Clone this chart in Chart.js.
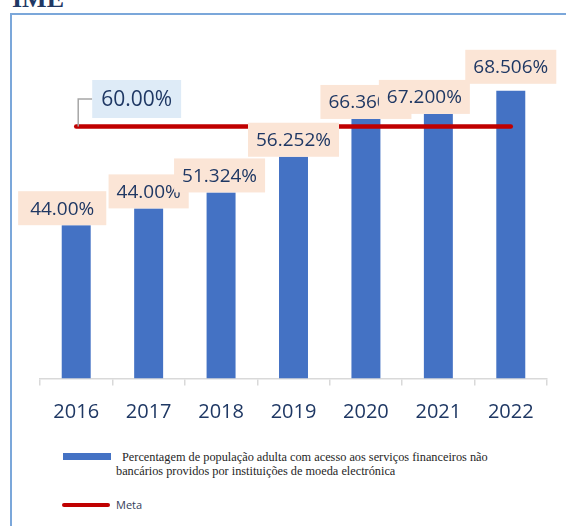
<!DOCTYPE html>
<html lang="pt">
<head>
    <meta charset="UTF-8">
    <title>Acesso a serviços financeiros não bancários</title>
    <script src="https://cdn.jsdelivr.net/npm/chart.js"></script>
    <style>
        body {
            margin: 0;
            background: #ffffff;
            width: 566px;
            height: 526px;
            overflow: hidden;
            position: relative;
        }
        .frame {
            position: absolute;
            left: 10px;
            top: 13px;
            width: 620px;
            height: 600px;
            border-left: 2px solid #7ba7da;
            border-top: 2px solid #7ba7da;
        }
        .title {
            position: absolute;
            left: 12px;
            top: -14px;
            font: bold 26px/26px "Liberation Serif", serif;
            color: #1f3864;
        }
        .chart-box {
            position: absolute;
            left: 0;
            top: 0;
            width: 566px;
            height: 445px;
        }
        .legend-swatch {
            position: absolute;
        }
        .legend-text {
            position: absolute;
            left: 116px;
        }
    </style>
</head>
<body>

<div class="frame"></div>
<div class="title">IME</div>

<div class="chart-box">
    <canvas id="imeChart"></canvas>
</div>
<div id="legend"></div>

<script>
    // Data
    const years = ['2016', '2017', '2018', '2019', '2020', '2021', '2022'];
    const adultAccess = [36.5, 40.5, 44.3, 52.8, 61.8, 63.0, 68.5];
    const valueLabels = ['44.00%', '44.00%', '51.324%', '56.252%', '66.360%', '67.200%', '68.506%'];
    const metaValues = [60, 60, 60, 60, 60, 60, 60];
    const seriesName = ['Percentagem de população adulta com acesso aos serviços financeiros não',
                        'bancários providos por instituições de moeda electrónica'];
    const metaName = 'Meta';

    const navy = '#1f3864';

    // Draws the boxed data labels and the target label with its leader line
    const boxLabels = {
        id: 'boxLabels',
        afterDatasetsDraw(chart) {
            const ctx = chart.ctx;
            const bars = chart.getDatasetMeta(0).data;
            const shiftX = [-14, 0, -1.5, 0, 0, -14, 0];
            const shiftY = [0, 0, 0, 0, 0, 0, -7];
            const extraW = [8, 0, 0, 0, 0, 0, 0];
            ctx.save();
            ctx.font = '19px "Open Sans"';
            ctx.textAlign = 'center';
            ctx.textBaseline = 'middle';

            bars.forEach((bar, i) => {
                const text = valueLabels[i];
                const w = ctx.measureText(text).width + 16 + extraW[i];
                const h = 34;
                const cx = bar.x + shiftX[i];
                const bottom = bar.y + shiftY[i];
                ctx.fillStyle = '#fbe5d6';
                ctx.fillRect(cx - w / 2, bottom - h, w, h);
                ctx.fillStyle = navy;
                ctx.fillText(text, cx, bottom - h / 2 + 1);
            });

            // target label
            ctx.font = '21px "Open Sans"';
            const start = chart.getDatasetMeta(1).data[0];
            const text = metaValues[0].toFixed(2) + '%';
            const w = ctx.measureText(text).width + 18;
            const h = 38;
            const left = start.x + 16;
            const top = start.y - 46.5;
            ctx.strokeStyle = '#a6a6a6';
            ctx.lineWidth = 1.5;
            ctx.beginPath();
            ctx.moveTo(start.x + 2, start.y);
            ctx.lineTo(start.x + 2, top + h / 2);
            ctx.lineTo(left, top + h / 2);
            ctx.stroke();
            ctx.fillStyle = '#deebf7';
            ctx.fillRect(left, top, w, h);
            ctx.fillStyle = navy;
            ctx.fillText(text, left + w / 2, top + h / 2 + 1);
            ctx.restore();
        }
    };

    const chart = new Chart(document.getElementById('imeChart'), {
        type: 'bar',
        data: {
            labels: years,
            datasets: [{
                label: seriesName,
                data: adultAccess,
                backgroundColor: '#4472c4',
                borderWidth: 0,
                categoryPercentage: 1,
                barPercentage: 0.4,
                order: 1
            }, {
                type: 'line',
                label: metaName,
                data: metaValues,
                borderColor: '#c00000',
                borderWidth: 4.5,
                borderCapStyle: 'round',
                pointRadius: 0,
                order: 0
            }]
        },
        options: {
            responsive: true,
            maintainAspectRatio: false,
            animation: false,
            layout: {
                padding: { left: 40, right: 19, top: 42.5, bottom: 5.5 }
            },
            plugins: {
                legend: { display: false },
                tooltip: { enabled: false }
            },
            scales: {
                x: {
                    grid: {
                        drawOnChartArea: false,
                        tickLength: 7,
                        color: '#d9d9d9',
                        lineWidth: 1.5
                    },
                    border: { color: '#d9d9d9', width: 1.5 },
                    ticks: {
                        color: navy,
                        padding: 15,
                        font: { family: 'Open Sans', size: 20 }
                    }
                },
                y: {
                    display: false,
                    min: 0,
                    max: 80
                }
            }
        },
        plugins: [boxLabels]
    });

    // HTML legend built from the datasets
    const legend = document.getElementById('legend');
    chart.data.datasets.forEach((ds) => {
        const swatch = document.createElement('div');
        swatch.className = 'legend-swatch';
        const label = document.createElement('div');
        label.className = 'legend-text';
        if (ds.type === 'line') {
            Object.assign(swatch.style, {
                left: '62px', top: '502.5px', width: '48px', height: '4px',
                background: ds.borderColor, borderRadius: '2px'
            });
            Object.assign(label.style, {
                top: '497px', font: '11px/16px "Open Sans", sans-serif', color: '#34405a'
            });
            label.textContent = ds.label;
        } else {
            Object.assign(swatch.style, {
                left: '63px', top: '453px', width: '48px', height: '7px',
                background: ds.backgroundColor
            });
            Object.assign(label.style, {
                top: '451px', font: '12.3px/13.5px "Liberation Serif", serif',
                color: '#262626', textIndent: '6px', whiteSpace: 'nowrap'
            });
            label.innerHTML = ds.label.join('<br>');
        }
        legend.appendChild(swatch);
        legend.appendChild(label);
    });
</script>

</body>
</html>
